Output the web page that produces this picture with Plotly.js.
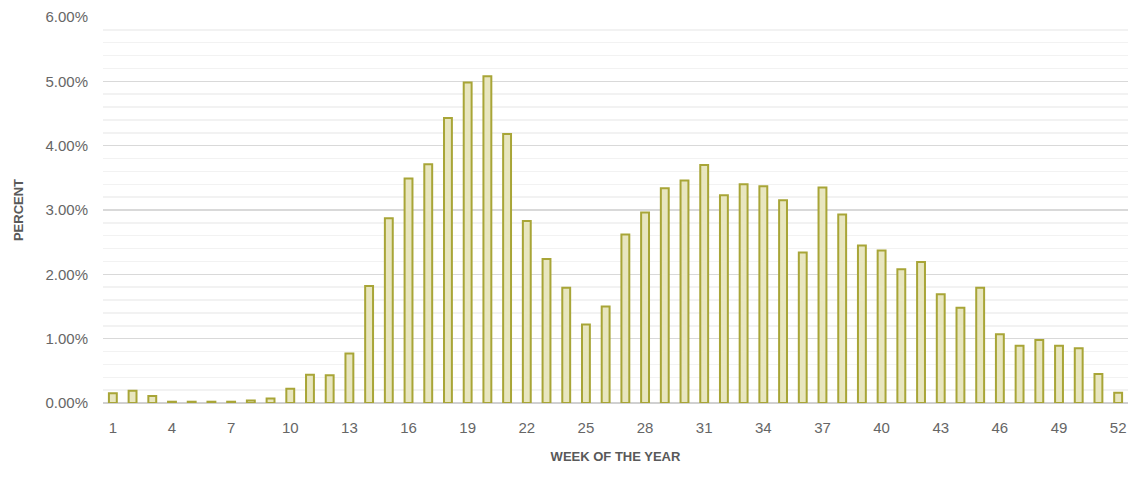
<!DOCTYPE html>
<html>
<head>
<meta charset="utf-8">
<script src="https://cdn.plot.ly/plotly-3.0.1.min.js"></script>
<style>html,body{margin:0;padding:0;background:#fff;}#chart{width:1130px;height:491px;}</style>
</head>
<body>
<div id="chart"></div>
<script>
const weeks = Array.from({length: 52}, (_, i) => i + 1);
const percentValues = [0.15,0.19,0.11,0.02,0.02,0.02,0.02,0.04,0.07,0.22,
  0.44,0.43,0.77,1.82,2.87,3.49,3.71,4.43,4.98,5.08,
  4.18,2.83,2.24,1.79,1.22,1.50,2.62,2.96,3.34,3.46,
  3.70,3.23,3.40,3.37,3.15,2.34,3.35,2.93,2.45,2.37,
  2.08,2.19,1.69,1.48,1.79,1.07,0.89,0.98,0.89,0.85,
  0.45,0.16];
const xTickVals = [1,4,7,10,13,16,19,22,25,28,31,34,37,40,43,46,49,52];
const yTickVals = [0,0.01,0.02,0.03,0.04,0.05,0.06];

const trace = {
  type: 'bar',
  x: weeks,
  y: percentValues.map(v => v / 100),
  marker: {color: '#e8e6bf', line: {color: '#a8a537', width: 2}},
  hoverinfo: 'x+y'
};

const layout = {
  width: 1130, height: 491,
  margin: {l: 103, r: 2, t: 17, b: 88},
  paper_bgcolor: '#fff', plot_bgcolor: '#fff',
  bargap: 0.6,
  showlegend: false,
  font: {family: 'Liberation Sans, Arial, sans-serif', color: '#666666'},
  xaxis: {
    type: 'linear',
    range: [0.5, 52.5],
    tickmode: 'array', tickvals: xTickVals,
    showgrid: false, zeroline: false,
    showline: false, ticks: '',
    ticklabelstandoff: 14,
    tickfont: {size: 15, color: '#666666'},
    title: {text: 'WEEK OF THE YEAR', font: {size: 13, color: '#595959', weight: 'bold'}, standoff: 16}
  },
  yaxis: {
    range: [0, 0.06],
    tickmode: 'array', tickvals: yTickVals,
    tickformat: '.2%',
    gridcolor: '#d9d9d9', gridwidth: 1.5,
    zeroline: true, zerolinecolor: '#d0d0d0', zerolinewidth: 2,
    ticks: '', showline: false,
    tickfont: {size: 15, color: '#666666'},
    ticklabelstandoff: 14,
    minor: {dtick: 0.002, showgrid: true, gridcolor: '#f2f2f2', gridwidth: 1.5, ticks: ''},
    title: {text: 'PERCENT', font: {size: 13, color: '#595959', weight: 'bold'}, standoff: 18}
  }
};

Plotly.newPlot('chart', [trace], layout, {displayModeBar: false, staticPlot: true});
</script>
</body>
</html>
